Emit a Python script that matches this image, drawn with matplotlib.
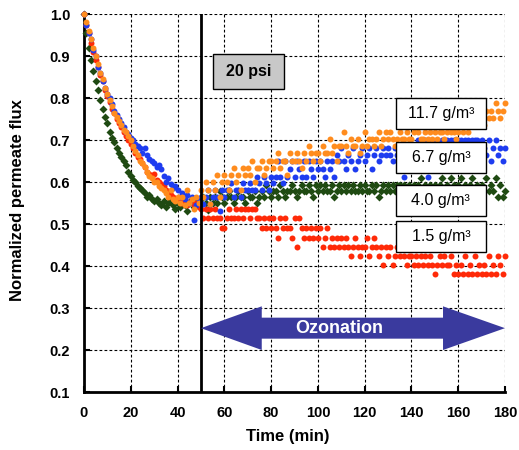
import numpy as np
import matplotlib
matplotlib.use("Agg")
import matplotlib.pyplot as plt
from matplotlib.patches import Rectangle, Polygon

plt.rcParams['font.family'] = ['Liberation Sans', 'DejaVu Sans']

# time axis (min), one reading per minute
time_min = np.arange(0, 181)

# 11.7 g/m3 (orange)
flux_117 = [
    1.00, 0.98, 0.96, 0.94, 0.92, 0.90, 0.88, 0.86, 0.845, 0.825,
    0.81, 0.795, 0.78, 0.765, 0.755, 0.745, 0.735, 0.725, 0.72, 0.71,
    0.70, 0.685, 0.675, 0.665, 0.65, 0.645, 0.635, 0.625, 0.615, 0.61,
    0.60, 0.60, 0.59, 0.585, 0.58, 0.575, 0.565, 0.58, 0.56, 0.555,
    0.565, 0.55, 0.565, 0.545, 0.58, 0.55, 0.56, 0.535, 0.565, 0.55,
    0.582, 0.565, 0.600, 0.582, 0.548, 0.600, 0.582, 0.617, 0.565, 0.600,
    0.617, 0.600, 0.582, 0.617, 0.634, 0.600, 0.617, 0.582, 0.634, 0.617,
    0.634, 0.617, 0.651, 0.600, 0.634, 0.634, 0.651, 0.617, 0.634, 0.651,
    0.651, 0.634, 0.651, 0.668, 0.634, 0.651, 0.651, 0.617, 0.668, 0.651,
    0.651, 0.668, 0.651, 0.634, 0.668, 0.651, 0.685, 0.668, 0.651, 0.668,
    0.668, 0.651, 0.685, 0.668, 0.668, 0.702, 0.668, 0.685, 0.651, 0.685,
    0.685, 0.719, 0.685, 0.668, 0.702, 0.685, 0.685, 0.702, 0.668, 0.685,
    0.719, 0.685, 0.702, 0.702, 0.685, 0.702, 0.719, 0.685, 0.702, 0.719,
    0.702, 0.719, 0.702, 0.685, 0.702, 0.719, 0.702, 0.702, 0.719, 0.702,
    0.702, 0.719, 0.685, 0.719, 0.702, 0.702, 0.719, 0.702, 0.719, 0.702,
    0.719, 0.702, 0.719, 0.719, 0.702, 0.719, 0.736, 0.719, 0.719, 0.702,
    0.719, 0.736, 0.719, 0.736, 0.719, 0.736, 0.736, 0.753, 0.736, 0.753,
    0.753, 0.736, 0.770, 0.753, 0.770, 0.753, 0.787, 0.770, 0.753, 0.770, 0.787,
]

# 6.7 g/m3 (blue)
flux_67 = [
    1.00, 0.975, 0.955, 0.94, 0.915, 0.90, 0.875, 0.86, 0.84, 0.825,
    0.81, 0.80, 0.785, 0.77, 0.76, 0.75, 0.74, 0.73, 0.72, 0.715,
    0.705, 0.70, 0.69, 0.685, 0.68, 0.67, 0.68, 0.665, 0.655, 0.65,
    0.645, 0.635, 0.64, 0.63, 0.615, 0.60, 0.61, 0.595, 0.585, 0.59,
    0.58, 0.565, 0.575, 0.56, 0.57, 0.55, 0.565, 0.51, 0.545, 0.56,
    0.565, 0.548, 0.565, 0.581, 0.548, 0.565, 0.581, 0.565, 0.531, 0.581,
    0.565, 0.581, 0.581, 0.597, 0.565, 0.581, 0.581, 0.565, 0.597, 0.581,
    0.581, 0.597, 0.581, 0.581, 0.613, 0.597, 0.581, 0.613, 0.597, 0.581,
    0.613, 0.597, 0.613, 0.649, 0.613, 0.597, 0.649, 0.613, 0.631, 0.649,
    0.613, 0.649, 0.631, 0.613, 0.649, 0.613, 0.649, 0.631, 0.613, 0.649,
    0.631, 0.649, 0.631, 0.613, 0.649, 0.631, 0.649, 0.613, 0.665, 0.649,
    0.682, 0.649, 0.631, 0.665, 0.649, 0.682, 0.631, 0.649, 0.665, 0.682,
    0.649, 0.665, 0.682, 0.631, 0.665, 0.682, 0.649, 0.665, 0.682, 0.665,
    0.682, 0.665, 0.649, 0.682, 0.665, 0.682, 0.665, 0.613, 0.682, 0.665,
    0.682, 0.665, 0.682, 0.700, 0.665, 0.682, 0.700, 0.613, 0.682, 0.700,
    0.682, 0.700, 0.682, 0.700, 0.682, 0.700, 0.682, 0.700, 0.700, 0.682,
    0.700, 0.700, 0.682, 0.700, 0.700, 0.682, 0.700, 0.700, 0.700, 0.682,
    0.700, 0.682, 0.665, 0.700, 0.649, 0.682, 0.700, 0.665, 0.682, 0.649, 0.682,
]

# 4.0 g/m3 (dark green)
flux_40 = [
    1.00, 0.955, 0.92, 0.89, 0.865, 0.84, 0.82, 0.795, 0.775, 0.755,
    0.74, 0.72, 0.705, 0.695, 0.68, 0.67, 0.66, 0.65, 0.64, 0.625,
    0.615, 0.605, 0.60, 0.59, 0.585, 0.58, 0.575, 0.565, 0.57, 0.56,
    0.555, 0.56, 0.55, 0.545, 0.555, 0.54, 0.55, 0.56, 0.545, 0.535,
    0.55, 0.54, 0.555, 0.545, 0.53, 0.55, 0.56, 0.54, 0.55, 0.545,
    0.549, 0.564, 0.549, 0.534, 0.564, 0.549, 0.564, 0.549, 0.579, 0.564,
    0.549, 0.564, 0.579, 0.564, 0.549, 0.564, 0.579, 0.564, 0.564, 0.549,
    0.579, 0.564, 0.564, 0.579, 0.549, 0.564, 0.579, 0.564, 0.594, 0.579,
    0.564, 0.579, 0.579, 0.564, 0.594, 0.579, 0.564, 0.579, 0.579, 0.594,
    0.579, 0.564, 0.579, 0.594, 0.579, 0.579, 0.594, 0.579, 0.564, 0.594,
    0.579, 0.594, 0.579, 0.594, 0.579, 0.579, 0.594, 0.564, 0.579, 0.594,
    0.579, 0.594, 0.579, 0.594, 0.579, 0.594, 0.579, 0.579, 0.594, 0.579,
    0.594, 0.579, 0.579, 0.594, 0.579, 0.594, 0.564, 0.579, 0.594, 0.579,
    0.594, 0.579, 0.594, 0.579, 0.594, 0.594, 0.579, 0.594, 0.579, 0.594,
    0.579, 0.594, 0.579, 0.594, 0.609, 0.579, 0.594, 0.579, 0.594, 0.579,
    0.594, 0.579, 0.594, 0.609, 0.579, 0.594, 0.579, 0.609, 0.594, 0.579,
    0.594, 0.609, 0.579, 0.594, 0.579, 0.594, 0.609, 0.579, 0.594, 0.579,
    0.594, 0.579, 0.609, 0.579, 0.594, 0.579, 0.609, 0.564, 0.594, 0.564, 0.579,
]

# 1.5 g/m3 (red)
flux_15 = [
    1.00, 0.975, 0.955, 0.93, 0.91, 0.89, 0.875, 0.855, 0.84, 0.82,
    0.805, 0.79, 0.775, 0.765, 0.75, 0.74, 0.73, 0.72, 0.71, 0.70,
    0.69, 0.68, 0.67, 0.66, 0.655, 0.645, 0.635, 0.625, 0.62, 0.615,
    0.62, 0.605, 0.60, 0.595, 0.59, 0.58, 0.575, 0.57, 0.565, 0.56,
    0.56, 0.555, 0.55, 0.56, 0.545, 0.55, 0.555, 0.545, 0.55, 0.54,
    0.536, 0.514, 0.536, 0.514, 0.536, 0.514, 0.536, 0.514, 0.514, 0.490,
    0.490, 0.514, 0.536, 0.514, 0.514, 0.536, 0.514, 0.536, 0.514, 0.536,
    0.536, 0.514, 0.536, 0.536, 0.514, 0.514, 0.490, 0.514, 0.490, 0.514,
    0.490, 0.514, 0.490, 0.467, 0.514, 0.490, 0.514, 0.490, 0.490, 0.467,
    0.514, 0.446, 0.514, 0.490, 0.467, 0.490, 0.467, 0.490, 0.467, 0.490,
    0.467, 0.490, 0.446, 0.467, 0.490, 0.446, 0.467, 0.446, 0.467, 0.446,
    0.467, 0.446, 0.467, 0.446, 0.425, 0.446, 0.467, 0.446, 0.425, 0.446,
    0.446, 0.467, 0.425, 0.446, 0.467, 0.446, 0.425, 0.446, 0.402, 0.446,
    0.425, 0.446, 0.402, 0.425, 0.446, 0.425, 0.446, 0.425, 0.402, 0.425,
    0.425, 0.402, 0.425, 0.402, 0.425, 0.402, 0.425, 0.402, 0.425, 0.402,
    0.381, 0.402, 0.425, 0.402, 0.425, 0.402, 0.402, 0.425, 0.381, 0.402,
    0.381, 0.402, 0.381, 0.425, 0.381, 0.402, 0.381, 0.425, 0.381, 0.402,
    0.381, 0.402, 0.381, 0.425, 0.381, 0.402, 0.381, 0.425, 0.402, 0.381, 0.425,
]

labels = ["11.7 g/m³", "6.7 g/m³", "4.0 g/m³", "1.5 g/m³"]
label_y = [0.763, 0.659, 0.555, 0.471]

fig = plt.figure(figsize=(5.19, 4.5), dpi=100)
ax = fig.add_axes([84 / 519, 58 / 450, 421 / 519, 378 / 450])

ax.plot(time_min, flux_40, 'D', color='#1f4a12', ms=3.7, mec='none', clip_on=False, zorder=3)
ax.plot(time_min, flux_15, 'o', color='#ff2a08', ms=4.3, mec='none', clip_on=False, zorder=3)
ax.plot(time_min, flux_67, 'o', color='#1e3cf0', ms=4.3, mec='none', clip_on=False, zorder=3)
ax.plot(time_min, flux_117, 'o', color='#ff8c1e', ms=4.3, mec='none', clip_on=False, zorder=3)

ax.set_xlim(0, 180)
ax.set_ylim(0.1, 1.0)
ax.set_xticks(np.arange(0, 181, 20))
ax.set_yticks(np.arange(0.1, 1.01, 0.1))
ax.set_yticklabels(['%.1f' % v for v in np.arange(0.1, 1.01, 0.1)])
ax.grid(True, color='black', linestyle=(0, (2.5, 2)), linewidth=0.8)
ax.set_axisbelow(True)
for s in ['top', 'right']:
    ax.spines[s].set_visible(False)
for s in ['left', 'bottom']:
    ax.spines[s].set_linewidth(2)
ax.tick_params(direction='in', length=4, width=1.5, labelsize=10.5, pad=10)
for lab in ax.get_xticklabels() + ax.get_yticklabels():
    lab.set_fontweight('bold')

ax.axvline(50, color='black', lw=2, zorder=4)

# pressure label
ax.add_patch(Rectangle((55, 0.822), 30.4, 0.082, facecolor='#c8c8c8', edgecolor='black', lw=1, zorder=5))
ax.text(70.2, 0.863, "20 psi", ha='center', va='center', fontsize=11.5, fontweight='bold', zorder=6)

# concentration labels
for lab, yc in zip(labels, label_y):
    ax.add_patch(Rectangle((133.3, yc - 0.037), 38.6, 0.074, facecolor='white', edgecolor='black', lw=1, zorder=5))
    ax.text(152.6, yc, lab, ha='center', va='center', fontsize=11.5, zorder=6)

# ozonation double arrow
yc = 0.252
sh, hh = 0.025, 0.052
arrow = Polygon([(50, yc), (76, yc + hh), (76, yc + sh), (153.5, yc + sh), (153.5, yc + hh),
                 (180, yc), (153.5, yc - hh), (153.5, yc - sh), (76, yc - sh), (76, yc - hh)],
                closed=True, facecolor='#3a3a9e', edgecolor='none', zorder=5, clip_on=False)
ax.add_patch(arrow)
ax.text(109, yc, "Ozonation", ha='center', va='center', color='white', fontsize=13, fontweight='bold', zorder=6)

fig.text(288 / 519, 1 - 437 / 450, "Time (min)", ha='center', va='center', fontsize=12, fontweight='bold')
fig.text(18 / 519, 1 - 200 / 450, "Normalized permeate flux", ha='center', va='center', rotation=90,
         fontsize=12, fontweight='bold')

fig.savefig("out.png", dpi=100)
